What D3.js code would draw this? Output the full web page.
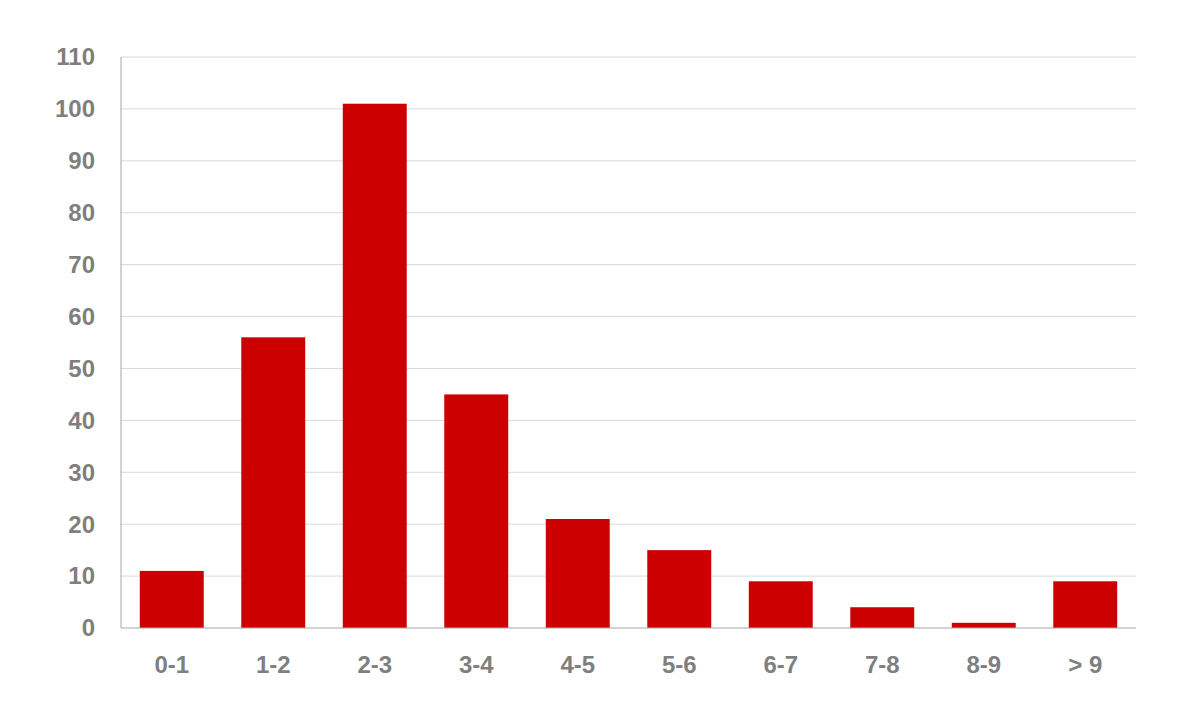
<!DOCTYPE html>
<html><head><meta charset="utf-8">
<script src="https://cdn.jsdelivr.net/npm/d3@7"></script>
<style>body{margin:0;background:#fff}text{font-family:"Liberation Sans",Arial,sans-serif;font-weight:bold;fill:#7f7f7f;font-size:24px}</style>
</head><body><svg id="c" width="1182" height="715"></svg>
<script>
const categories=["0-1","1-2","2-3","3-4","4-5","5-6","6-7","7-8","8-9","> 9"];
const values=[11,56,101,45,21,15,9,4,1,9];
const yTicks=[0,10,20,30,40,50,60,70,80,90,100,110];
const svg=d3.select("#c");
const L=121,R=1136,T=57,B=628;
const x=d3.scaleBand().domain(categories).range([L,R]).paddingInner(0.37).paddingOuter(0.185);
const y=d3.scaleLinear().domain([0,110]).range([B,T]);
svg.append("g").selectAll("line").data(yTicks.slice(1)).join("line")
 .attr("x1",L).attr("x2",R).attr("y1",d=>y(d)).attr("y2",d=>y(d)).attr("stroke","#d9d9d9").attr("stroke-width",1);
svg.append("g").selectAll("rect").data(values).join("rect")
 .attr("x",(d,i)=>x(categories[i])).attr("width",x.bandwidth())
 .attr("y",d=>y(d)).attr("height",d=>B-y(d)).attr("fill","#cc0000");
svg.append("line").attr("x1",L).attr("x2",L).attr("y1",T).attr("y2",B).attr("stroke","#a6a6a6");
svg.append("line").attr("x1",L).attr("x2",R).attr("y1",B).attr("y2",B).attr("stroke","#a6a6a6");
svg.append("g").selectAll("text").data(yTicks).join("text")
 .attr("x",95).attr("y",d=>y(d)).attr("dy","0.35em").attr("text-anchor","end").text(d=>d);
svg.append("g").selectAll("text").data(categories).join("text")
 .attr("x",d=>x(d)+x.bandwidth()/2).attr("y",673).attr("text-anchor","middle").text(d=>d);
</script></body></html>
